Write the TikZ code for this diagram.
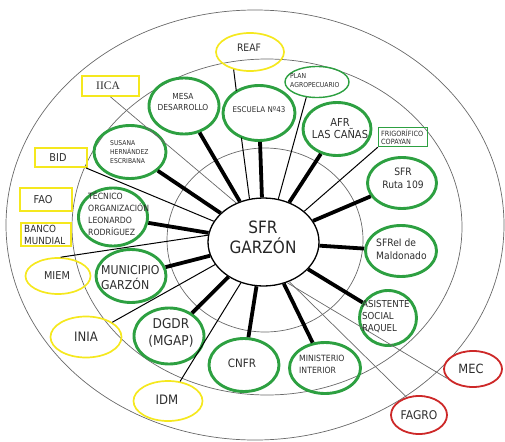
\documentclass[tikz,border=0pt]{standalone}
\usepackage{fontspec}
\setmainfont{DejaVu Sans}[FakeStretch=0.9]
\newfontfamily\serifx{Liberation Serif}
\usetikzlibrary{shapes.geometric}
\definecolor{gr}{RGB}{45,160,65}
\definecolor{yl}{RGB}{245,232,30}
\definecolor{rd}{RGB}{205,40,40}
\definecolor{rg}{RGB}{105,105,105}
\definecolor{tx}{RGB}{45,45,45}
\begin{document}
\begin{tikzpicture}[x=1pt,y=-1pt,
  ring/.style={draw=rg, line width=0.7pt},
  gnode/.style={ellipse, draw=gr, line width=2.9pt, inner sep=0pt},
  gthinnode/.style={ellipse, draw=gr, line width=1.4pt, inner sep=0pt},
  grect/.style={rectangle, draw=gr, line width=1.4pt, inner sep=0pt},
  ynode/.style={ellipse, draw=yl, line width=1.7pt, inner sep=0pt},
  yrect/.style={rectangle, draw=yl, line width=1.8pt, inner sep=0pt},
  rnode/.style={ellipse, draw=rd, line width=1.8pt, inner sep=0pt},
  cnode/.style={ellipse, draw=black, line width=1.3pt, inner sep=0pt},
  txt/.style={inner sep=0pt, text=tx, align=center},
  ltxt/.style={inner sep=0pt, text=tx, align=left, anchor=west},
  spoke/.style={line width=3.8pt, black},
  thinline/.style={line width=1pt, black},
  grayline/.style={line width=0.7pt, rg}
]
\useasboundingbox (0,0) rectangle (505,441);

% rings
\draw[ring] (255,225) ellipse [x radius=249pt, y radius=215pt];
\draw[ring] (267,227) ellipse [x radius=195pt, y radius=168pt];
\draw[ring] (265,240) ellipse [x radius=98pt, y radius=92pt];

% center
\node[cnode, minimum width=111pt, minimum height=88pt] (sfr) at (263.5,242) {};
\node[txt, text=black!85, font=\fontsize{17}{20}\selectfont] (sfrt) at (263,237) {SFR\\GARZÓN};

% green nodes
\node[gnode, minimum width=70pt, minimum height=56pt] (mesa) at (184,106) {};
\node[gnode, minimum width=72pt, minimum height=55pt] (esc) at (259,113) {};
\node[gthinnode, minimum width=64pt, minimum height=31pt] (plan) at (317,82) {};
\node[gnode, minimum width=68pt, minimum height=53pt] (afr) at (337,129) {};
\node[grect, minimum width=49pt, minimum height=19pt] (frig) at (403,137) {};
\node[gnode, minimum width=69pt, minimum height=51pt] (s109) at (402,183) {};
\node[gnode, minimum width=71pt, minimum height=51pt] (sfrei) at (401,251) {};
\node[gnode, minimum width=57pt, minimum height=55pt] (asist) at (388,318) {};
\node[gnode, minimum width=71pt, minimum height=51pt] (minist) at (325,368) {};
\node[gnode, minimum width=70pt, minimum height=53pt] (cnfr) at (244,365) {};
\node[gnode, minimum width=70pt, minimum height=56pt] (dgdr) at (169,336) {};
\node[gnode, minimum width=70pt, minimum height=53pt] (muni) at (131,276) {};
\node[gnode, minimum width=69pt, minimum height=58pt] (tec) at (113,217) {};
\node[gnode, minimum width=72pt, minimum height=53pt] (susana) at (130,152) {};

% yellow nodes
\node[ynode, minimum width=68pt, minimum height=38pt] (reaf) at (250,52) {};
\node[yrect, minimum width=57pt, minimum height=20pt] (iica) at (110.5,86) {};
\node[yrect, minimum width=52pt, minimum height=19pt] (bid) at (61,157.5) {};
\node[yrect, minimum width=52pt, minimum height=23pt] (fao) at (46,199.5) {};
\node[yrect, minimum width=50pt, minimum height=23pt] (banco) at (46,234.5) {};
\node[ynode, minimum width=65pt, minimum height=36pt] (miem) at (58,276) {};
\node[ynode, minimum width=71pt, minimum height=41pt] (inia) at (86,337) {};
\node[ynode, minimum width=69pt, minimum height=40pt] (idm) at (168,401) {};

% red nodes
\node[rnode, minimum width=58pt, minimum height=36pt] (mec) at (473,369) {};
\node[rnode, minimum width=56pt, minimum height=38pt] (fagro) at (419,415) {};

% thick spokes
\foreach \n in {mesa,esc,afr,s109,sfrei,asist,minist,cnfr,dgdr,muni,tec,susana}
  \draw[spoke] (\n) -- (sfr);

% thin black lines
\coordinate (reafa) at (236.3,91);
\coordinate (reafb) at (241.4,137.6);
\draw[thinline] (reaf.227) -- (reafa);
\draw[thinline] (reafb) -- (sfr.108);
\draw[thinline] (plan.235) -- (sfr.71);
\draw[thinline] (frig.south west) -- (sfr.37);
\draw[thinline] (bid) -- (sfr);
\draw[thinline] (miem.82) -- (sfr.173);
\draw[thinline] (inia) -- (sfr.205);
\draw[thinline] (idm) -- (sfr.241);

% gray lines
\draw[grayline] (iica.south) -- (sfr.125);
\draw[grayline] (sfr.300) -- (mec.200);
\draw[grayline] (sfr.303) -- (fagro.125);

% texts
\node[txt, font=\fontsize{8.3}{11}\selectfont] (mesat) at (183,102) {MESA\\DESARROLLO};
\node[txt, font=\fontsize{7.9}{10}\selectfont] (esct) at (259,110) {ESCUELA Nº43};
\node[ltxt, font=\fontsize{6.8}{9}\selectfont] (plant) at (290,80.5) {PLAN\\AGROPECUARIO};
\node[txt, font=\fontsize{11}{12}\selectfont] (afrt) at (340,129) {AFR\\LAS CAÑAS};
\node[ltxt, font=\fontsize{7.2}{8}\selectfont] (frigt) at (381,137) {FRIGORÍFICO\\COPAYAN};
\node[txt, font=\fontsize{10.2}{13}\selectfont] (s109t) at (403,178) {SFR\\Ruta 109};
\node[ltxt, font=\fontsize{10.2}{13}\selectfont] (sfreit) at (376,249.5) {SFReI de\\Maldonado};
\node[ltxt, font=\fontsize{9.6}{12}\selectfont] (asistt) at (362,317) {ASISTENTE\\SOCIAL\\RAQUEL};
\node[ltxt, font=\fontsize{8.6}{12}\selectfont] (ministt) at (299,364) {MINISTERIO\\INTERIOR};
\node[txt, font=\fontsize{11.5}{13}\selectfont] (cnfrt) at (242,363) {CNFR};
\node[txt, font=\fontsize{13.5}{17}\selectfont] (dgdrt) at (171,333) {DGDR\\(MGAP)};
\node[ltxt, font=\fontsize{12.2}{15}\selectfont] (munit) at (101,277.5) {MUNICIPIO\\GARZÓN};
\node[ltxt, font=\fontsize{8.6}{12}\selectfont] (tect) at (88,214) {TÉCNICO\\ORGANIZACIÓN\\LEONARDO\\RODRÍGUEZ};
\node[ltxt, font=\fontsize{6.7}{9}\selectfont] (susanat) at (110,152) {SUSANA\\HERNÁNDEZ\\ESCRIBANA};

\node[txt, font=\fontsize{10.3}{12}\selectfont] (reaft) at (249,48) {REAF};
\node[txt, font=\serifx\fontsize{11.5}{12}\selectfont] (iicat) at (108,86) {IICA};
\node[txt, font=\fontsize{10.8}{12}\selectfont] (bidt) at (58,158) {BID};
\node[txt, font=\fontsize{10.8}{12}\selectfont] (faot) at (43,200) {FAO};
\node[ltxt, font=\fontsize{9.8}{12}\selectfont] (bancot) at (24,235) {BANCO\\MUNDIAL};
\node[txt, font=\fontsize{10.8}{12}\selectfont] (miemt) at (57,276) {MIEM};
\node[txt, font=\fontsize{13}{14}\selectfont] (iniat) at (86,337) {INIA};
\node[txt, font=\fontsize{13}{14}\selectfont] (idmt) at (167,400) {IDM};
\node[txt, font=\fontsize{12.7}{14}\selectfont] (mect) at (471,369) {MEC};
\node[txt, font=\fontsize{12}{14}\selectfont] (fagrot) at (419,415) {FAGRO};
\end{tikzpicture}
\end{document}
